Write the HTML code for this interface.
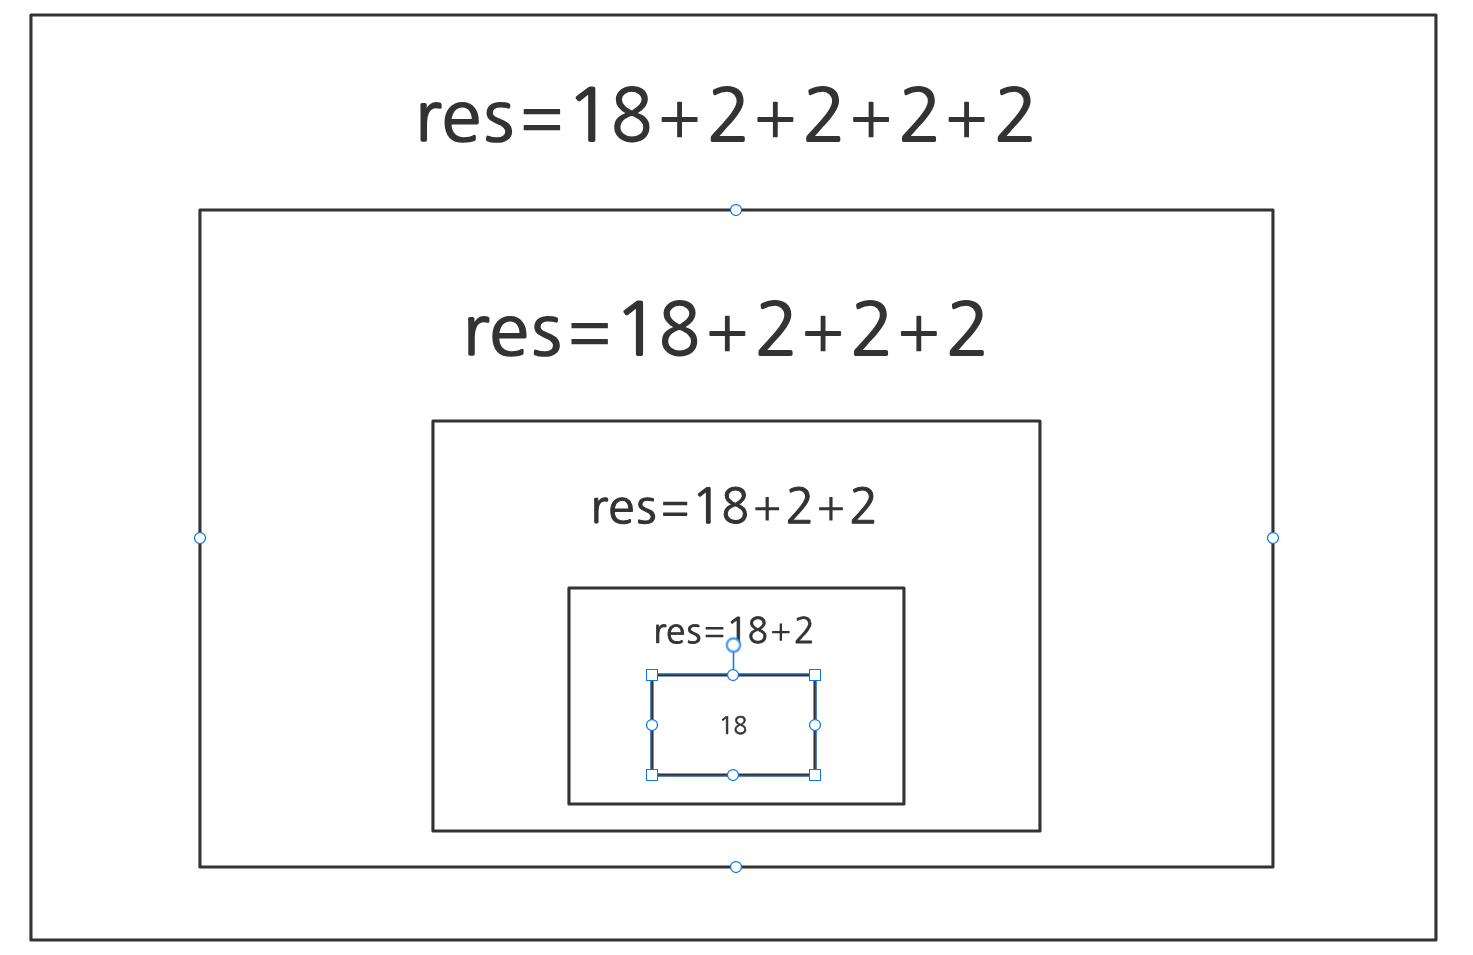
<!DOCTYPE html>
<html lang="en">
<head>
<meta charset="utf-8">
<title>res=18+2+2+2+2</title>
<style>
  html, body { margin: 0; padding: 0; background: #ffffff; }
  body { width: 1473px; height: 955px; overflow: hidden; }
  svg { display: block; }
  .box { fill: none; stroke: #333333; stroke-width: 3.1; stroke-linejoin: round; }
  .lbl { font-family: "NanumGothic", "Liberation Sans", sans-serif; fill: #333333; stroke: #333333; stroke-linejoin: miter; opacity: 0.999; text-rendering: geometricPrecision; }
  .lbl .op { stroke: none; }
  .h { fill: #ffffff; stroke: #0b77ea; stroke-width: 1; }
  circle.h { stroke-width: 1.25; }
</style>
</head>
<body>
<svg width="1473" height="955" viewBox="0 0 1473 955">
  <defs><filter id="soft" x="-30%" y="-30%" width="160%" height="160%"><feGaussianBlur stdDeviation="0.4"/></filter></defs>
  <rect x="0" y="0" width="1473" height="955" fill="#ffffff"/>
  <!-- nested frames -->
  <rect class="box" x="30.95" y="15" width="1405" height="925"/>
  <rect class="box" x="199.95" y="210" width="1073" height="657"/>
  <rect class="box" x="432.95" y="421" width="607" height="410"/>
  <rect class="box" x="568.95" y="588" width="335" height="216"/>
  <rect class="box" x="652" y="675" width="163" height="100"/>
  <!-- labels -->
  <text class="lbl" stroke-width="1.56"><title>res=18+2+2+2+2</title><tspan font-size="68.62" x="414.4" y="141.22" textLength="26.38" lengthAdjust="spacingAndGlyphs">r</tspan><tspan font-size="68.62" x="441.4" y="141.22" textLength="39.72" lengthAdjust="spacingAndGlyphs">e</tspan><tspan font-size="68.62" x="483.49" y="141.22" textLength="30.26" lengthAdjust="spacingAndGlyphs">s</tspan><tspan class="op" font-size="75.07" x="519.82" y="143.9" textLength="43.92" lengthAdjust="spacingAndGlyphs">=</tspan><tspan font-size="72.34" x="565.19" y="141.22" textLength="48" lengthAdjust="spacingAndGlyphs">1</tspan><tspan font-size="72.34" x="611.05" y="141.22" textLength="41.25" lengthAdjust="spacingAndGlyphs">8</tspan><tspan class="op" font-size="66.24" x="657.83" y="143.6">+</tspan><tspan font-size="72.34" x="706.94" y="141.22">2</tspan><tspan class="op" font-size="66.24" x="753.51" y="143.6">+</tspan><tspan font-size="72.34" x="802.62" y="141.22">2</tspan><tspan class="op" font-size="66.24" x="849.19" y="143.6">+</tspan><tspan font-size="72.34" x="898.3" y="141.22">2</tspan><tspan class="op" font-size="66.24" x="944.86" y="143.6">+</tspan><tspan font-size="72.34" x="993.98" y="141.22">2</tspan></text>
  <text class="lbl" stroke-width="1.56"><title>res=18+2+2+2</title><tspan font-size="68.62" x="462.15" y="355.22" textLength="26.38" lengthAdjust="spacingAndGlyphs">r</tspan><tspan font-size="68.62" x="489.15" y="355.22" textLength="39.72" lengthAdjust="spacingAndGlyphs">e</tspan><tspan font-size="68.62" x="531.24" y="355.22" textLength="30.26" lengthAdjust="spacingAndGlyphs">s</tspan><tspan class="op" font-size="75.07" x="567.57" y="357.9" textLength="43.92" lengthAdjust="spacingAndGlyphs">=</tspan><tspan font-size="72.34" x="612.94" y="355.22" textLength="48" lengthAdjust="spacingAndGlyphs">1</tspan><tspan font-size="72.34" x="658.8" y="355.22" textLength="41.25" lengthAdjust="spacingAndGlyphs">8</tspan><tspan class="op" font-size="66.24" x="705.58" y="357.6">+</tspan><tspan font-size="72.34" x="754.69" y="355.22">2</tspan><tspan class="op" font-size="66.24" x="801.26" y="357.6">+</tspan><tspan font-size="72.34" x="850.37" y="355.22">2</tspan><tspan class="op" font-size="66.24" x="896.94" y="357.6">+</tspan><tspan font-size="72.34" x="946.05" y="355.22">2</tspan></text>
  <text class="lbl" stroke-width="1.04"><title>res=18+2+2</title><tspan font-size="45.45" x="590.15" y="523.48" textLength="17.47" lengthAdjust="spacingAndGlyphs">r</tspan><tspan font-size="45.45" x="608.19" y="523.48" textLength="26.31" lengthAdjust="spacingAndGlyphs">e</tspan><tspan font-size="45.45" x="636.26" y="523.48" textLength="20.04" lengthAdjust="spacingAndGlyphs">s</tspan><tspan class="op" font-size="49.73" x="660.54" y="525.26" textLength="29.09" lengthAdjust="spacingAndGlyphs">=</tspan><tspan font-size="47.91" x="690.87" y="523.48" textLength="31.79" lengthAdjust="spacingAndGlyphs">1</tspan><tspan font-size="47.91" x="721.43" y="523.48" textLength="27.32" lengthAdjust="spacingAndGlyphs">8</tspan><tspan class="op" font-size="43.87" x="752.67" y="525.06">+</tspan><tspan font-size="47.91" x="785.45" y="523.48">2</tspan><tspan class="op" font-size="43.87" x="816.54" y="525.06">+</tspan><tspan font-size="47.91" x="849.31" y="523.48">2</tspan></text>
  <text class="lbl" stroke-width="0.76"><title>res=18+2</title><tspan font-size="33.34" x="653.18" y="642.62" textLength="12.82" lengthAdjust="spacingAndGlyphs">r</tspan><tspan font-size="33.34" x="666.14" y="642.62" textLength="19.3" lengthAdjust="spacingAndGlyphs">e</tspan><tspan font-size="33.34" x="686.4" y="642.62" textLength="14.7" lengthAdjust="spacingAndGlyphs">s</tspan><tspan class="op" font-size="36.48" x="703.84" y="643.92" textLength="21.34" lengthAdjust="spacingAndGlyphs">=</tspan><tspan font-size="35.15" x="725.61" y="642.62" textLength="23.32" lengthAdjust="spacingAndGlyphs">1</tspan><tspan font-size="35.15" x="747.71" y="642.62" textLength="20.04" lengthAdjust="spacingAndGlyphs">8</tspan><tspan class="op" font-size="32.19" x="770.2" y="643.78">+</tspan><tspan font-size="35.15" x="793.82" y="642.62">2</tspan></text>
  <text class="lbl" stroke-width="0.52"><title>18</title><tspan font-size="24.05" x="718.22" y="733.59" textLength="15.96" lengthAdjust="spacingAndGlyphs">1</tspan><tspan font-size="24.05" x="733.47" y="733.59" textLength="13.71" lengthAdjust="spacingAndGlyphs">8</tspan></text>
  <!-- selection outline of the innermost box -->
  <rect x="651" y="674" width="165" height="102" fill="none" stroke="#1a73e8" stroke-width="1"/>
  <!-- rotate handle -->
  <rect x="732.75" y="651" width="1.5" height="18.5" fill="#0b77ea"/>
  <g filter="url(#soft)">
    <circle cx="733.5" cy="645.05" r="6.7" fill="#ffffff" stroke="#1f80ee" stroke-width="3.3" stroke-opacity="0.32"/>
    <circle cx="733.5" cy="645.05" r="6.7" fill="none" stroke="#1f80ee" stroke-width="1.7" stroke-opacity="0.7"/>
  </g>
  <!-- corner resize handles -->
  <rect class="h" x="646.5" y="669.5" width="11" height="11"/>
  <rect class="h" x="809.5" y="669.5" width="11" height="11"/>
  <rect class="h" x="646.5" y="769.5" width="11" height="11"/>
  <rect class="h" x="809.5" y="769.5" width="11" height="11"/>
  <!-- anchors of the selected box -->
  <circle class="h" cx="733" cy="675" r="5.5"/>
  <circle class="h" cx="733" cy="775" r="5.5"/>
  <circle class="h" cx="652" cy="725" r="5.5"/>
  <circle class="h" cx="815" cy="725" r="5.5"/>
  <!-- anchors of the hovered box -->
  <circle class="h" cx="736" cy="210" r="5.5"/>
  <circle class="h" cx="736" cy="867" r="5.5"/>
  <circle class="h" cx="200" cy="538" r="5.5"/>
  <circle class="h" cx="1273" cy="538" r="5.5"/>
</svg>
</body>
</html>
